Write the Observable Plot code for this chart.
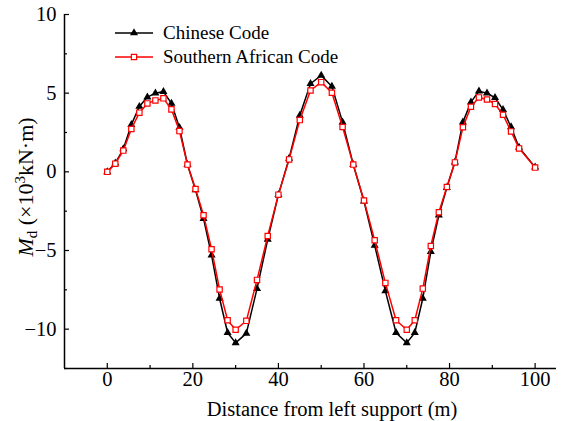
<!DOCTYPE html>
<html><head><meta charset="utf-8">
<script src="https://cdn.jsdelivr.net/npm/d3@7"></script>
<script src="https://cdn.jsdelivr.net/npm/@observablehq/plot@0.6"></script>
<style>
body{margin:0;background:#fff}
svg{font-family:"Liberation Serif","Times New Roman",serif}
</style>
</head><body><div id="chart"></div>
<script>
const distance = [0,1.875,3.75,5.625,7.5,9.375,11.25,13.125,15,16.875,18.75,20.625,22.5,24.375,26.25,28.125,30,
  32.5,35,37.5,40,42.5,45,47.5,50,52.5,55,57.5,60,62.5,65,67.5,70,
  71.875,73.75,75.625,77.5,79.375,81.25,83.125,85,86.875,88.75,90.625,92.5,94.375,96.25,100];
const chineseCode = [0.0,0.55,1.45,3.0,4.15,4.75,5.0,5.1,4.35,2.8,0.45,-1.15,-2.97,-5.3,-8.05,-10.23,-10.87,
  -10.27,-7.42,-4.3,-1.45,0.85,3.59,5.6,6.13,5.43,3.16,0.45,-1.87,-4.67,-7.57,-10.23,-10.87,
  -10.23,-8.05,-5.07,-2.76,-1.0,0.62,3.16,4.43,5.13,5.0,4.71,3.95,2.85,1.55,0.3];
const southernAfricanCode = [0.0,0.52,1.35,2.72,3.76,4.35,4.54,4.67,3.97,2.59,0.46,-1.09,-2.76,-4.92,-7.48,-9.43,-10.04,
  -9.47,-6.87,-4.08,-1.45,0.79,3.29,5.17,5.70,5.03,2.85,0.46,-1.82,-4.35,-7.06,-9.43,-10.04,
  -9.43,-7.42,-4.71,-2.57,-0.96,0.60,2.83,4.14,4.73,4.60,4.31,3.63,2.57,1.49,0.27];
const seriesNames = ["Chinese Code","Southern African Code"];
const xMajorTicks = [0,20,40,60,80,100];
const xMinorTicks = [10,30,50,70,90];
const yMajorTicks = [-10,-5,0,5,10];
const yMinorTicks = [-12.5,-7.5,-2.5,2.5,7.5];
const xLabel = "Distance from left support (m)";

const W = 572, H = 421, mL = 64, mT = 14, mB = 53, mR = 16;
const plotH = H - mT - mB, plotW = W - mL - mR;
const chinese = distance.map((x, i) => ({x, y: chineseCode[i]}));
const southern = distance.map((x, i) => ({x, y: southernAfricanCode[i]}));
const triR = 3.0, sqR = 3.0;
const FS = 20.5;

const chart = Plot.plot({
  width: W, height: H,
  marginLeft: mL, marginRight: mR, marginTop: mT, marginBottom: mB,
  style: {fontFamily: "Liberation Serif, Times New Roman, serif", fontSize: FS + "px", background: "white", color: "black", overflow: "visible"},
  x: {domain: [-10, 105]},
  y: {domain: [-12.5, 10]},
  marks: [
    Plot.axisX(xMajorTicks, {tickSize: 0, tickPadding: 3, fontSize: FS, label: null}),
    Plot.axisY(yMajorTicks, {tickSize: 0, tickPadding: 8, fontSize: FS, label: null}),
    Plot.ruleX(xMajorTicks, {x: d => d, insetTop: plotH - 5, stroke: "black", strokeWidth: 1.2}),
    Plot.ruleX(xMinorTicks, {x: d => d, insetTop: plotH - 3, stroke: "black", strokeWidth: 1.2}),
    Plot.ruleY(yMajorTicks, {y: d => d, insetRight: plotW - 5, stroke: "black", strokeWidth: 1.2}),
    Plot.ruleY(yMinorTicks, {y: d => d, insetRight: plotW - 3, stroke: "black", strokeWidth: 1.2}),
    Plot.ruleX([-10], {stroke: "black", strokeWidth: 1.5}),
    Plot.ruleY([-12.5], {stroke: "black", strokeWidth: 1.5}),
    Plot.line(chinese, {x: "x", y: "y", stroke: "black", strokeWidth: 1.5}),
    Plot.dot(chinese, {x: "x", y: "y", symbol: "triangle", fill: "black", stroke: "none", r: triR}),
    Plot.line(southern, {x: "x", y: "y", stroke: "#ff0000", strokeWidth: 1.5}),
    Plot.dot(southern, {x: "x", y: "y", symbol: "square", fill: "white", stroke: "#ff0000", strokeWidth: 1.2, r: sqR})
  ]
});
document.getElementById("chart").appendChild(chart);

const svg = d3.select(chart);
// x axis title
svg.append("text").attr("x", 332).attr("y", 416).attr("text-anchor", "middle")
  .attr("font-size", FS).attr("fill", "black").text(xLabel);
// y axis title
const yt = svg.append("text").attr("transform", "translate(33,187) rotate(-90)")
  .attr("text-anchor", "middle").attr("font-size", 22).attr("fill", "black");
yt.append("tspan").attr("font-style", "italic").text("M");
yt.append("tspan").attr("font-size", 15).attr("dy", 4).text("d");
yt.append("tspan").attr("dy", -4).text(" (\u00d710");
yt.append("tspan").attr("font-size", 15).attr("dy", -8).text("3");
yt.append("tspan").attr("dy", 8).text("kN\u00b7m)");
// legend
const legend = [
  {name: seriesNames[0], y: 33, color: "black", sym: d3.symbolTriangle, r: triR, fill: "black", stroke: "none"},
  {name: seriesNames[1], y: 57, color: "#ff0000", sym: d3.symbolSquare, r: sqR, fill: "white", stroke: "#ff0000"}
];
legend.forEach(l => {
  svg.append("line").attr("x1", 115).attr("x2", 153).attr("y1", l.y).attr("y2", l.y)
    .attr("stroke", l.color).attr("stroke-width", 1.5);
  svg.append("path").attr("d", d3.symbol(l.sym, Math.PI * l.r * l.r)())
    .attr("transform", `translate(134,${l.y})`).attr("fill", l.fill).attr("stroke", l.stroke).attr("stroke-width", 1.2);
  svg.append("text").attr("x", 163).attr("y", l.y + 6).attr("text-anchor", "start")
    .attr("font-size", 19).attr("fill", "black").text(l.name);
});
</script>
</body></html>
